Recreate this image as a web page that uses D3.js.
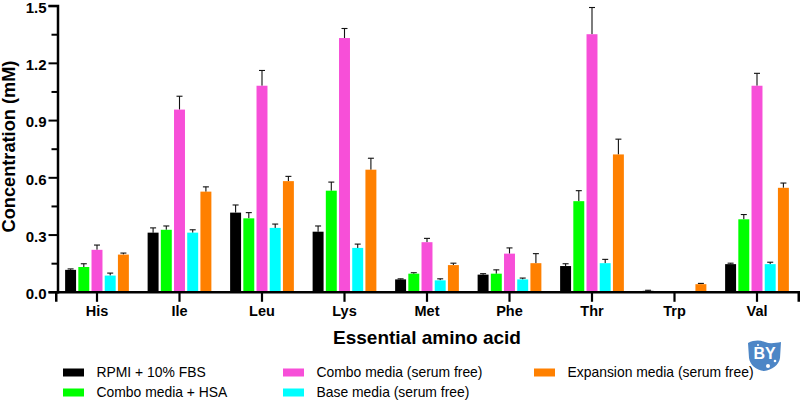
<!DOCTYPE html>
<html>
<head>
<meta charset="utf-8">
<script src="https://cdn.jsdelivr.net/npm/d3@7"></script>
<style>
  html, body { margin: 0; padding: 0; background: #fff; }
  text { font-family: "Liberation Sans", Arial, sans-serif; fill: #000; }
</style>
</head>
<body>
<div id="chart"></div>
<script>
const aminoAcids = ["His", "Ile", "Leu", "Lys", "Met", "Phe", "Thr", "Trp", "Val"];
const seriesNames = ["RPMI + 10% FBS", "Combo media + HSA", "Combo media (serum free)", "Base media (serum free)", "Expansion media (serum free)"];
const seriesColors = ["#000000", "#00ff00", "#f74fd8", "#00ffff", "#ff8000"];

const rpmiValues = [0.115, 0.31, 0.415, 0.315, 0.065, 0.09, 0.135, 0.005, 0.145];
const comboHsaValues = [0.13, 0.325, 0.385, 0.53, 0.095, 0.095, 0.475, 0, 0.38];
const comboValues = [0.22, 0.955, 1.08, 1.33, 0.26, 0.2, 1.35, 0, 1.08];
const baseValues = [0.085, 0.31, 0.335, 0.23, 0.06, 0.065, 0.15, 0, 0.145];
const expansionValues = [0.195, 0.525, 0.58, 0.64, 0.14, 0.15, 0.72, 0.04, 0.545];

const rpmiErrors = [0.005, 0.025, 0.04, 0.03, 0.003, 0.005, 0.012, 0.003, 0.005];
const comboHsaErrors = [0.017, 0.02, 0.03, 0.045, 0.005, 0.02, 0.055, 0, 0.025];
const comboErrors = [0.025, 0.07, 0.08, 0.05, 0.02, 0.03, 0.14, 0, 0.065];
const baseErrors = [0.013, 0.015, 0.02, 0.02, 0.008, 0.007, 0.02, 0, 0.01];
const expansionErrors = [0.008, 0.025, 0.025, 0.06, 0.01, 0.05, 0.08, 0.004, 0.025];

const allValues = [rpmiValues, comboHsaValues, comboValues, baseValues, expansionValues];
const allErrors = [rpmiErrors, comboHsaErrors, comboErrors, baseErrors, expansionErrors];

const width = 800;
const height = 400;

const svg = d3.select("#chart")
  .append("svg")
  .attr("width", width)
  .attr("height", height)
  .style("display", "block");

const x = d3.scaleBand().domain(aminoAcids).range([55.75, 798.25]);
const inner = d3.scaleBand().domain(d3.range(5)).range([-33, 33]).paddingInner(0.17).paddingOuter(0.085);
const y = d3.scaleLinear().domain([0, 1.5]).range([291.8, 5.6]);

// flat list of bars
const bars = [];
allValues.forEach((vals, s) => {
  vals.forEach((v, i) => {
    bars.push({ cat: aminoAcids[i], s: s, v: v, e: allErrors[s][i] });
  });
});

const barCenter = d => x(d.cat) + x.bandwidth() / 2 + inner(d.s) + inner.bandwidth() / 2;

const shown = bars.filter(d => d.v > 0);

// error bars go behind the bars
svg.append("g").selectAll("line")
  .data(shown)
  .enter()
  .append("line")
  .attr("x1", barCenter)
  .attr("x2", barCenter)
  .attr("y1", d => y(d.v))
  .attr("y2", d => y(d.v + d.e))
  .attr("stroke", "#111")
  .attr("stroke-width", 1.1);

svg.append("g").selectAll("line")
  .data(shown)
  .enter()
  .append("line")
  .attr("x1", d => barCenter(d) - 3)
  .attr("x2", d => barCenter(d) + 3)
  .attr("y1", d => y(d.v + d.e))
  .attr("y2", d => y(d.v + d.e))
  .attr("stroke", "#111")
  .attr("stroke-width", 1.1);

svg.append("g").selectAll("rect")
  .data(shown)
  .enter()
  .append("rect")
  .attr("x", d => barCenter(d) - inner.bandwidth() / 2)
  .attr("y", d => y(d.v))
  .attr("width", inner.bandwidth())
  .attr("height", d => y(0) - y(d.v))
  .attr("fill", d => seriesColors[d.s]);

// y axis
const yAxis = svg.append("g")
  .attr("transform", "translate(57.5,0)")
  .call(d3.axisLeft(y).tickValues(d3.range(0, 1.51, 0.3)).tickFormat(d3.format(".1f")).tickSize(9).tickPadding(2));
yAxis.select(".domain").attr("stroke", "#000").attr("stroke-width", 2.5);
yAxis.selectAll(".tick line").attr("stroke-width", 2);
yAxis.selectAll("text").attr("font-size", 15).attr("font-weight", "bold").attr("dy", "0.45em");

const yMinor = svg.append("g")
  .attr("transform", "translate(57.5,0)")
  .call(d3.axisLeft(y).tickValues([0.15, 0.45, 0.75, 1.05, 1.35]).tickFormat("").tickSize(6));
yMinor.select(".domain").remove();
yMinor.selectAll(".tick line").attr("stroke-width", 2);

// x axis
const xAxis = svg.append("g")
  .attr("transform", "translate(0,291.8)")
  .call(d3.axisBottom(x).tickSize(10).tickPadding(4));
xAxis.select(".domain").attr("stroke", "#000").attr("stroke-width", 2.5);
xAxis.selectAll(".tick line").attr("stroke-width", 2.2);
xAxis.selectAll("text").attr("font-size", 14.5).attr("font-weight", "bold");

svg.append("text")
  .attr("x", 427)
  .attr("y", 344)
  .attr("text-anchor", "middle")
  .attr("font-size", 19)
  .attr("font-weight", "bold")
  .text("Essential amino acid");

svg.append("text")
  .attr("transform", "translate(15,146.5) rotate(-90)")
  .attr("text-anchor", "middle")
  .attr("font-size", 18.2)
  .attr("font-weight", "bold")
  .text("Concentration (mM)");

// legend, filled column by column
const legendCols = [63, 283, 534];
const legendRows = [372.5, 392.5];
const legendSlots = [[0, 0], [0, 1], [1, 0], [1, 1], [2, 0]];

const legend = svg.append("g").selectAll("g")
  .data(seriesNames)
  .enter()
  .append("g")
  .attr("transform", (d, i) => `translate(${legendCols[legendSlots[i][0]]},${legendRows[legendSlots[i][1]]})`);

legend.append("rect")
  .attr("x", 0)
  .attr("y", -4)
  .attr("width", 21)
  .attr("height", 8)
  .attr("fill", (d, i) => seriesColors[i]);

legend.append("text")
  .attr("x", 33.5)
  .attr("y", 4.8)
  .attr("font-size", 13.9)
  .attr("fill", "#111")
  .text(d => d);

// BY badge in the corner
const logo = svg.append("g").attr("transform", "translate(748,340)");
logo.append("path")
  .attr("d", "M0,3 C6,0 12,0 17,2 C22,4 27,3 33,2 L32,18 C31,25 24,30 16,31 C8,30 2,25 1,18 Z")
  .attr("fill", "#4d86c6");
logo.append("text")
  .attr("x", 16.5)
  .attr("y", 19)
  .attr("text-anchor", "middle")
  .attr("font-size", 16)
  .attr("font-weight", "bold")
  .style("fill", "#fff")
  .text("BY");
logo.append("circle").attr("cx", 20).attr("cy", 26).attr("r", 2).attr("fill", "#fff");
logo.append("circle").attr("cx", 27).attr("cy", 21).attr("r", 1.3).attr("fill", "#fff");
logo.append("circle").attr("cx", 10).attr("cy", 5).attr("r", 1).attr("fill", "#fff");
</script>
</body>
</html>
